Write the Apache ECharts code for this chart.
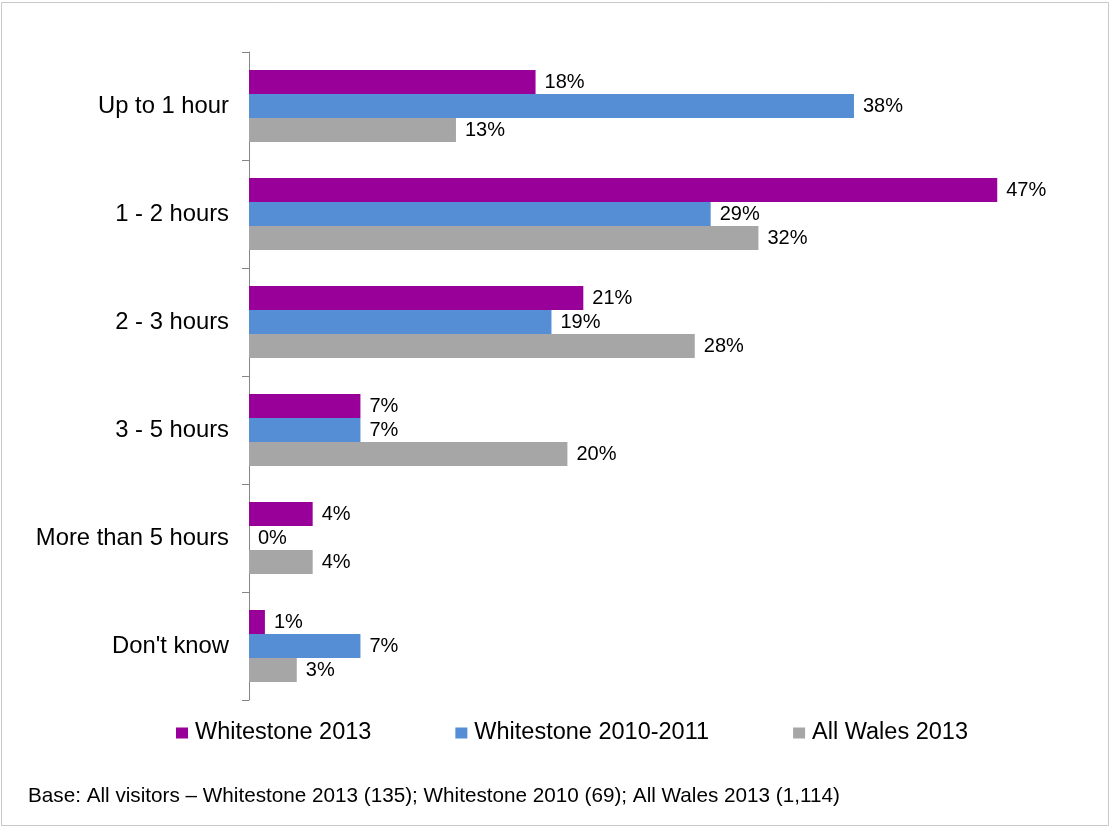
<!DOCTYPE html>
<html>
<head>
<meta charset="utf-8">
<title>Length of visit</title>
<script src="https://cdn.jsdelivr.net/npm/echarts@6/dist/echarts.min.js"></script>
<style>
  html, body { margin: 0; padding: 0; background: #ffffff; }
  #chart { width: 1111px; height: 828px; }
</style>
</head>
<body>
<div id="chart"></div>
<script>
// Time spent at the site, by visitor group (percent of visitors)
const categories = ['Up to 1 hour', '1 - 2 hours', '2 - 3 hours', '3 - 5 hours', 'More than 5 hours', "Don't know"];
const seriesNames = ['Whitestone 2013', 'Whitestone 2010-2011', 'All Wales 2013'];
const whitestone2013 = [18, 47, 21, 7, 4, 1];
const whitestone2010 = [38, 29, 19, 7, 0, 7];
const allWales2013 = [13, 32, 28, 20, 4, 3];
const baseNote = 'Base: All visitors \u2013 Whitestone 2013 (135); Whitestone 2010 (69); All Wales 2013 (1,114)';

const colors = ['#990099', '#558ED5', '#A6A6A6'];
const font = '"Liberation Sans", Arial, sans-serif';

const chart = echarts.init(document.getElementById('chart'), null, { renderer: 'canvas' });

function barSeries(name, values, color) {
  return {
    name: name,
    type: 'bar',
    data: values,
    barWidth: 24,
    barGap: '0%',
    itemStyle: { color: color },
    label: {
      show: true,
      position: 'right',
      distance: 9,
      formatter: '{c}%',
      color: '#000000',
      fontFamily: font,
      fontSize: 20
    },
    emphasis: { disabled: true },
    animation: false
  };
}

chart.setOption({
  backgroundColor: '#ffffff',
  animation: false,
  grid: { left: 249, right: 66, top: 52, bottom: 128, containLabel: false },
  xAxis: {
    type: 'value',
    min: 0,
    max: 50,
    show: false
  },
  yAxis: {
    type: 'category',
    data: categories,
    inverse: true,
    axisLine: { show: true, lineStyle: { color: '#868686', width: 1 } },
    axisTick: { show: true, length: 7, lineStyle: { color: '#868686' } },
    axisLabel: { color: '#000000', fontFamily: font, fontSize: 23.8, margin: 20 },
    splitLine: { show: false }
  },
  legend: {
    data: seriesNames,
    left: 176,
    top: 721,
    padding: 0,
    itemWidth: 12,
    itemHeight: 11,
    itemGap: 84,
    icon: 'rect',
    textStyle: { color: '#000000', fontFamily: font, fontSize: 23.5, padding: [0, 0, 0, 2] }
  },
  series: [
    barSeries(seriesNames[0], whitestone2013, colors[0]),
    barSeries(seriesNames[1], whitestone2010, colors[1]),
    barSeries(seriesNames[2], allWales2013, colors[2])
  ],
  graphic: [
    {
      type: 'rect',
      shape: { x: 1.5, y: 2.5, width: 1107, height: 823 },
      style: { fill: 'none', stroke: '#c8c8c8', lineWidth: 1 },
      silent: true
    },
    {
      type: 'text',
      left: 28,
      top: 786,
      style: { text: baseNote, fill: '#000000', font: '20.7px "Liberation Sans", Arial, sans-serif' },
      silent: true
    }
  ]
});
</script>
</body>
</html>
